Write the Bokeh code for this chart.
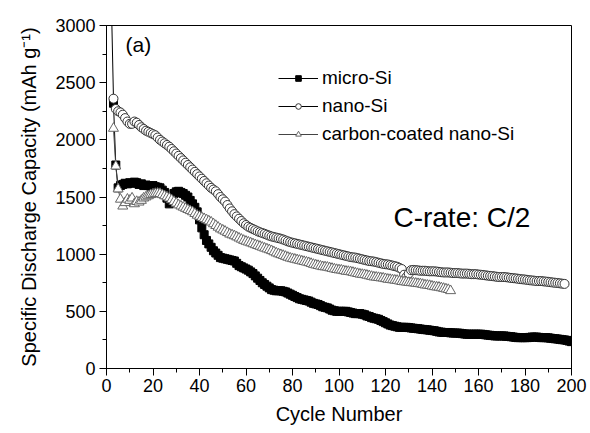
from bokeh.plotting import figure
from bokeh.models import (Range1d, SingleIntervalTicker, Legend, LegendItem, Label)
from bokeh.embed import file_html
from bokeh.resources import INLINE

# ---------------- data (one value per cycle) ----------------
micro_cycle = list(range(3, 201))
micro_cap = [2320, 1780, 1580, 1600, 1610, 1620, 1615,                      # 3-9
             1625, 1620, 1630, 1625, 1610, 1615, 1600, 1605, 1600, 1595,    # 10-19
             1600, 1590, 1585, 1580, 1560, 1540, 1490, 1440, 1480, 1530,    # 20-29
             1545, 1550, 1540, 1530, 1515, 1500, 1470, 1440, 1410, 1370,    # 30-39
             1300, 1230, 1170, 1120, 1090, 1060, 1030, 1010, 990, 970,      # 40-49
             965, 960, 955, 950, 945, 940, 920, 900, 890, 880,              # 50-59
             870, 860, 845, 830, 810, 790, 770, 750, 735, 720,              # 60-69
             705, 690, 685, 680, 680, 680, 675, 670, 660, 650,              # 70-79
             640, 630, 620, 610, 605, 600, 595, 590, 580, 570,              # 80-89
             565, 560, 550, 540, 535, 530, 520, 510, 505, 500,              # 90-99
             500, 500, 500, 500, 495, 490, 485, 480, 480, 480,              # 100-109
             475, 470, 460, 455, 445, 440, 435, 430, 420, 410,              # 110-119
             400, 390, 380, 375, 370, 365, 360, 360, 360, 360,              # 120-129
             358, 355, 352, 350, 348, 345, 342, 340, 338, 335,              # 130-139
             332, 330, 325, 320, 318, 315, 315, 315, 312, 310,              # 140-149
             310, 310, 308, 305, 302, 300, 300, 300, 300, 300,              # 150-159
             300, 300, 298, 295, 292, 290, 288, 285, 285, 285,              # 160-169
             285, 285, 282, 280, 278, 275, 272, 270, 270, 270,              # 170-179
             270, 270, 272, 275, 275, 275, 272, 270, 270, 270,              # 180-189
             268, 265, 262, 260, 258, 255, 252, 250, 246, 240,              # 190-199
             235]                                                           # 200

nano_cycle = list(range(2, 198))
nano_cap = [3300, 2360, 2270, 2250, 2240, 2220, 2190, 2160,                # 2-9
            2140, 2140, 2160, 2150, 2130, 2110, 2095, 2080, 2070, 2060,    # 10-19
            2050, 2040, 2020, 2000, 1985, 1970, 1955, 1940, 1920, 1900,    # 20-29
            1880, 1860, 1840, 1820, 1800, 1780, 1760, 1740, 1720, 1700,    # 30-39
            1680, 1660, 1640, 1620, 1600, 1580, 1565, 1550, 1525, 1500,    # 40-49
            1480, 1460, 1430, 1400, 1375, 1350, 1330, 1310, 1290, 1270,    # 50-59
            1255, 1240, 1230, 1220, 1210, 1200, 1192, 1185, 1178, 1170,    # 60-69
            1162, 1155, 1150, 1145, 1140, 1135, 1128, 1120, 1112, 1105,    # 70-79
            1100, 1095, 1090, 1085, 1080, 1075, 1070, 1065, 1060, 1055,    # 80-89
            1050, 1045, 1040, 1035, 1030, 1025, 1020, 1015, 1010, 1005,    # 90-99
            1000, 995, 990, 985, 980, 975, 972, 970, 965, 960,             # 100-109
            955, 950, 945, 940, 938, 935, 930, 925, 920, 915,              # 110-119
            912, 910, 905, 900, 895, 890, 880, 870, 820, 800,              # 120-129
            830, 860, 862, 860, 858, 855, 855, 855, 852, 850,              # 130-139
            850, 850, 848, 845, 842, 840, 840, 840, 838, 835,              # 140-149
            835, 835, 832, 830, 830, 830, 828, 825, 825, 825,              # 150-159
            822, 820, 818, 815, 812, 810, 808, 805, 802, 800,              # 160-169
            800, 800, 798, 795, 792, 790, 788, 785, 782, 780,              # 170-179
            778, 775, 772, 770, 768, 765, 765, 765, 762, 760,              # 180-189
            758, 755, 752, 750, 748, 745, 742, 740]                        # 190-197

carbon_cycle = list(range(3, 149))
carbon_cap = [2100, 1770, 1570, 1480, 1420, 1450, 1480,                    # 3-9
              1470, 1490, 1440, 1460, 1455, 1470, 1490, 1500, 1510, 1520,  # 10-19
              1525, 1530, 1532, 1530, 1520, 1510, 1500, 1490, 1475, 1460,  # 20-29
              1445, 1430, 1420, 1410, 1400, 1390, 1380, 1370, 1355, 1340,  # 30-39
              1330, 1320, 1310, 1300, 1290, 1280, 1265, 1250, 1235, 1220,  # 40-49
              1210, 1200, 1188, 1175, 1168, 1160, 1150, 1140, 1130, 1120,  # 50-59
              1112, 1105, 1098, 1090, 1082, 1075, 1068, 1060, 1052, 1045,  # 60-69
              1038, 1030, 1020, 1010, 1002, 995, 988, 980, 972, 965,       # 70-79
              960, 955, 950, 945, 940, 935, 930, 925, 918, 910,            # 80-89
              905, 900, 895, 890, 888, 885, 880, 875, 870, 865,            # 90-99
              862, 860, 855, 850, 848, 845, 840, 835, 830, 825,            # 100-109
              822, 820, 815, 810, 805, 800, 798, 795, 792, 790,            # 110-119
              785, 780, 778, 775, 772, 770, 765, 760, 758, 755,            # 120-129
              752, 750, 748, 745, 742, 740, 735, 730, 728, 725,            # 130-139
              720, 715, 712, 710, 705, 700, 695, 690, 680]                 # 140-148

x_label = "Cycle Number"
y_label = "Specific Discharge Capacity (mAh g\u207b\u00b9)"
series_names = ["micro-Si", "nano-Si", "carbon-coated nano-Si"]

FONT = "Liberation Sans"

p = figure(width=590, height=433, output_backend="svg", toolbar_location=None,
           x_range=Range1d(0, 200), y_range=Range1d(0, 3000),
           min_border_left=106, min_border_right=19, min_border_top=25, min_border_bottom=65)
p.background_fill_color = "white"
p.border_fill_color = "white"
p.outline_line_color = "black"
p.outline_line_width = 1
p.xgrid.visible = False
p.ygrid.visible = False

p.xaxis.ticker = SingleIntervalTicker(interval=20, num_minor_ticks=2)
p.yaxis.ticker = SingleIntervalTicker(interval=500, num_minor_ticks=2)
for ax in (p.xaxis[0], p.yaxis[0]):
    ax.axis_line_color = "black"
    ax.axis_line_width = 1
    ax.major_tick_line_color = "black"
    ax.minor_tick_line_color = "black"
    ax.major_tick_in = 0
    ax.major_tick_out = 7
    ax.minor_tick_in = 0
    ax.minor_tick_out = 4
    ax.major_label_text_font = FONT
    ax.major_label_text_font_size = "18px"
    ax.major_label_text_color = "black"
    ax.axis_label_text_font = FONT
    ax.axis_label_text_font_size = "20px"
    ax.axis_label_text_font_style = "normal"
    ax.axis_label_text_color = "black"
p.xaxis.axis_label = x_label
p.yaxis.axis_label = y_label
p.xaxis.major_label_standoff = 3
p.yaxis.major_label_standoff = 4
p.xaxis.axis_label_standoff = 8
p.yaxis.axis_label_standoff = 12

# micro-Si
l1 = p.line(micro_cycle, micro_cap, line_color="black", line_width=1)
s1 = p.scatter(micro_cycle, micro_cap, marker="square", size=8, fill_color="black", line_color="black")
# nano-Si
l2 = p.line(nano_cycle, nano_cap, line_color="black", line_width=1)
s2 = p.scatter(nano_cycle, nano_cap, marker="circle", size=9, fill_color="white", line_color="#333333", line_width=1)
# carbon-coated nano-Si
l3 = p.line(carbon_cycle, carbon_cap, line_color="#444444", line_width=1)
s3 = p.scatter(carbon_cycle, carbon_cap, marker="triangle", size=10, fill_color="white", line_color="#666666", line_width=1)

legend = Legend(items=[LegendItem(label=series_names[0], renderers=[l1, s1]),
                       LegendItem(label=series_names[1], renderers=[l2, s2]),
                       LegendItem(label=series_names[2], renderers=[l3, s3])],
                location=(172, 223), orientation="vertical",
                background_fill_alpha=0, border_line_alpha=0,
                padding=0, margin=0, spacing=6,
                glyph_width=40, glyph_height=14, label_height=20,
                label_standoff=4, label_text_font=FONT, label_text_font_size="19px",
                label_text_color="black")
p.add_layout(legend)

p.add_layout(Label(x=8.2, y=2834, text="(a)", text_font=FONT, text_font_size="21px",
                   text_baseline="middle", text_align="left", text_color="black"))
p.add_layout(Label(x=123.4, y=1321, text="C-rate: C/2", text_font=FONT, text_font_size="28px",
                   text_baseline="middle", text_align="left", text_color="black"))

open("out.html", "w").write(file_html(p, INLINE))
